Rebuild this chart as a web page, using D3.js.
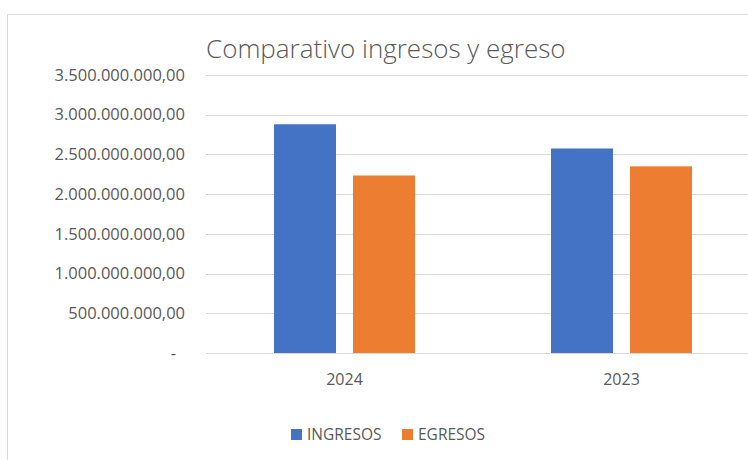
<!DOCTYPE html>
<html>
<head>
<meta charset="utf-8">
<script src="https://cdn.jsdelivr.net/npm/d3@7"></script>
<style>
  body { margin: 0; background: #fff; }
  svg text { font-family: 'Open Sans', 'Noto Sans', sans-serif; fill: #595959; }
</style>
</head>
<body>
<svg id="chart" width="748" height="460"></svg>
<script>
// Chart data
const years = ['2024', '2023'];
const seriesNames = ['INGRESOS', 'EGRESOS'];
const ingresos = [2880000000, 2575000000];
const egresos = [2235000000, 2350000000];
const yTicks = [0, 500000000, 1000000000, 1500000000, 2000000000, 2500000000, 3000000000, 3500000000];
const colors = ['#4472c4', '#ed7d31'];

const svg = d3.select('#chart');

// Outer frame (only left and top edges show inside the window)
svg.append('rect')
  .attr('x', 7.5).attr('y', 14.5)
  .attr('width', 800).attr('height', 500)
  .attr('fill', 'none')
  .attr('stroke', '#d9d9d9');

// Scales
const x0 = d3.scaleBand().domain(years).range([206, 760]);
const y = d3.scaleLinear().domain([0, 3500000000]).range([353, 75]);

// Number format like 3.500.000.000,00
const fmt = d3.formatLocale({ decimal: ',', thousands: '.', grouping: [3], currency: ['', ''] }).format(',.2f');

// Gridlines
svg.append('g')
  .selectAll('line')
  .data(yTicks)
  .enter()
  .append('line')
  .attr('x1', 206).attr('x2', 748)
  .attr('y1', d => Math.round(y(d)) + 0.5)
  .attr('y2', d => Math.round(y(d)) + 0.5)
  .attr('stroke', '#d9d9d9')
  .attr('stroke-width', 1);

// Y labels (zero shows as an accounting dash, padded from the right)
svg.append('g')
  .selectAll('text')
  .data(yTicks)
  .enter()
  .append('text')
  .attr('x', d => d === 0 ? 176 : 185)
  .attr('y', d => y(d))
  .attr('dy', '0.35em')
  .attr('text-anchor', 'end')
  .style('font-size', '16.5px')
  .text(d => d === 0 ? '-' : fmt(d));

// Bars
const barW = 62, gap = 17;
const groupOffset = (x0.bandwidth() - (barW * 2 + gap)) / 2;
const data = years.map((yr, i) => ({ year: yr, values: [ingresos[i], egresos[i]] }));

const groups = svg.append('g')
  .selectAll('g')
  .data(data)
  .enter()
  .append('g')
  .attr('transform', d => `translate(${x0(d.year) + groupOffset},0)`);

groups.selectAll('rect')
  .data(d => d.values)
  .enter()
  .append('rect')
  .attr('x', (d, i) => i * (barW + gap))
  .attr('y', d => y(d))
  .attr('width', barW)
  .attr('height', d => y(0) - y(d))
  .attr('fill', (d, i) => colors[i]);

// X labels
svg.append('g')
  .selectAll('text')
  .data(years)
  .enter()
  .append('text')
  .attr('x', d => x0(d) + x0.bandwidth() / 2)
  .attr('y', 379)
  .attr('dy', '0.35em')
  .attr('text-anchor', 'middle')
  .style('font-size', '16px')
  .text(d => d);

// Title
svg.append('text')
  .attr('x', 206)
  .attr('y', 58)
  .style('font-size', '26px')
  .style('font-weight', '300')
  .text('Comparativo ingresos y egreso');

// Legend
const legendX = [291, 402];
const legend = svg.append('g')
  .selectAll('g')
  .data(seriesNames)
  .enter()
  .append('g')
  .attr('transform', (d, i) => `translate(${legendX[i]},429)`);

legend.append('rect')
  .attr('width', 11).attr('height', 11)
  .attr('fill', (d, i) => colors[i]);

legend.append('text')
  .attr('x', 16)
  .attr('y', 5.5)
  .attr('dy', '0.35em')
  .style('font-size', '15.5px')
  .text(d => d);
</script>
</body>
</html>
